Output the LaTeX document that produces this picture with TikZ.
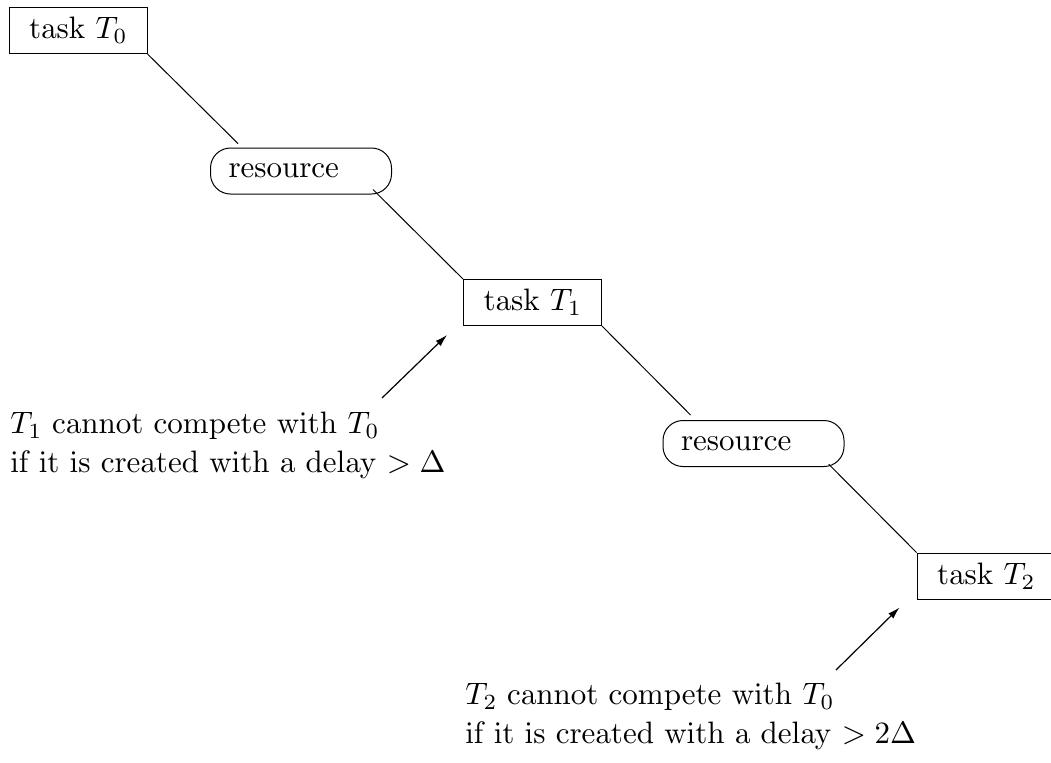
\documentclass[tikz,border=0pt]{standalone}
\usepackage[OT1]{fontenc}
\usetikzlibrary{arrows.meta}

% Computer Modern at its 10pt design, scaled freely (7pt design for scripts)
\DeclareFontShape{OT1}{cmr}{m}{n}{<-11.5> cmr7 <11.5-> cmr10}{}
\DeclareFontShape{OML}{cmm}{m}{it}{<-11.5> cmmi7 <11.5-> cmmi10}{}
\DeclareFontShape{OMS}{cmsy}{m}{n}{<-11.5> cmsy7 <11.5-> cmsy10}{}
\renewcommand{\rmdefault}{cmr}
\renewcommand{\familydefault}{\rmdefault}

\tikzset{
  txt/.style={font=\fontsize{15.5pt}{19.5pt}\selectfont},
  taskbox/.style={txt, draw, line width=0.5pt, minimum width=69pt, minimum height=23pt,
    inner sep=0pt},
  resbox/.style={txt, draw, line width=0.5pt, rounded corners=10pt, minimum height=23pt,
    text width=72.5pt, inner xsep=9pt, inner ysep=0pt, align=left},
  link/.style={line width=0.5pt},
  pointer/.style={line width=0.6pt, -{Latex[length=6pt,width=3.6pt]}},
  note/.style={txt, inner sep=0pt, align=left}
}

\begin{document}
\begin{tikzpicture}[x=0.5pt, y=-0.5pt]
  \useasboundingbox (0,0) rectangle (1051,762);
  \clip (0,0) rectangle (1051,762);

  % tasks and the resources between them
  \node[taskbox] (T0) at (78,30.5)   {task $T_0$};
  \node[resbox]  (R1) at (301,171)   {resource};
  \node[taskbox] (T1) at (532.5,302.5) {task $T_1$};
  \node[resbox]  (R2) at (753.5,443.5) {resource};
  \node[taskbox] (T2) at (986,576)   {task $T_2$};

  % diagonal links
  \draw[link, shorten >=2.8pt] (T0.south east) -- ([xshift=16pt]R1.north west);
  \draw[link, shorten >=-3.5pt] (T1.north west) -- ([xshift=-7pt]R1.south east);
  \draw[link, shorten >=3.5pt] (T1.south east) -- ([xshift=16.5pt]R2.north west);
  \draw[link, shorten >=-2pt] (T2.north west) -- ([xshift=-6.5pt]R2.south east);

  % annotations
  \node[note, anchor=north west] (N1) at (10,412)
    {$T_1$ cannot compete with $T_0$\\if it is created with a delay $>\Delta$};
  \node[note, anchor=north west] (N2) at (465,683)
    {$T_2$ cannot compete with $T_0$\\if it is created with a delay $>2\Delta$};

  \coordinate (P1) at (382,398);
  \coordinate (P2) at (836,670);
  \draw[pointer] (P1) -- ([shift={(-16,9)}]T1.south west);
  \draw[pointer] (P2) -- ([shift={(-17,8)}]T2.south west);
\end{tikzpicture}
\end{document}
